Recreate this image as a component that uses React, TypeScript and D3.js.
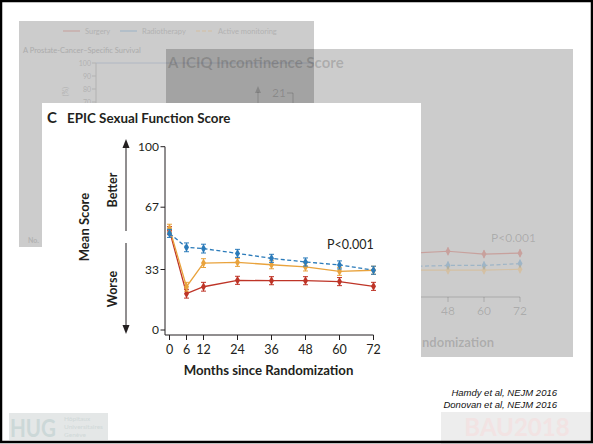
import React from 'react';
import * as d3 from 'd3';

// main chart data (EPIC sexual function score)
const months = [0, 6, 12, 24, 36, 48, 60, 72];
const radiotherapy = [52.7, 45.1, 44.4, 41.8, 39.1, 37.1, 35.5, 32.6];
const activeMonitoring = [55.5, 23.6, 36.5, 36.9, 35.6, 34.4, 32.0, 32.6];
const surgery = [54.2, 19.8, 23.6, 27.1, 26.9, 26.9, 26.4, 23.8];
const errHalf = [2.2, 2.4, 2.4, 2.2, 2.2, 2.2, 2.2, 2.2];
const yTicks = [0, 33, 67, 100];

// faded background panel (ICIQ incontinence), only right end visible
const bgMonths = [36, 48, 60, 72];
const bgSurgery = [4.1, 4.3, 4.0, 4.1];
const bgRadio = [2.7, 2.8, 2.8, 3.0];
const bgActive = [2.3, 2.3, 2.3, 2.4];
const bgXTicks = [48, 60, 72];

// faded back panel (survival)
const survTicks = [100, 90, 80, 70];
const legendItems = ['Surgery', 'Radiotherapy', 'Active monitoring'];

const RED = '#be3427';
const BLUE = '#2b7bba';
const ORANGE = '#e9a33d';
const FONT = 'Lato, "Open Sans", sans-serif';

const x = d3.scaleLinear().domain([0, 72]).range([169.5, 373.5]);
const y = d3.scaleLinear().domain([0, 100]).range([330, 146.7]);

const bx = d3.scaleLinear().domain([48, 72]).range([448, 520]);
const by = d3.scaleLinear().domain([0, 21]).range([292, 93]);

const sy = d3.scaleLinear().domain([70, 100]).range([102, 63]);

const diamond = d3.symbol(d3.symbolDiamond, 22)();

const Series = ({ vals, color, dashed }: { vals: number[]; color: string; dashed?: boolean }) => {
  const line = d3.line<number>()
    .x((d, i) => x(months[i]))
    .y(d => y(d));
  return <g>
    <path d={line(vals) || ''} fill='none' stroke={color} strokeWidth={1.3}
      strokeDasharray={dashed ? '4,2.5' : undefined} />
    {vals.map((v, i) => {
      const cx = x(months[i]);
      return <g key={i}>
        <line x1={cx} x2={cx} y1={y(v - errHalf[i])} y2={y(v + errHalf[i])} stroke={color} strokeWidth={1.2} />
        <line x1={cx - 2.5} x2={cx + 2.5} y1={y(v - errHalf[i])} y2={y(v - errHalf[i])} stroke={color} strokeWidth={1} />
        <line x1={cx - 2.5} x2={cx + 2.5} y1={y(v + errHalf[i])} y2={y(v + errHalf[i])} stroke={color} strokeWidth={1} />
        <path d={diamond} transform={`translate(${cx},${y(v)})`} fill={color} />
      </g>;
    })}
  </g>;
};

const BgSeries = ({ vals, color, dashed }: { vals: number[]; color: string; dashed?: boolean }) => {
  const line = d3.line<number>()
    .x((d, i) => bx(bgMonths[i]))
    .y(d => by(d));
  return <g opacity={0.28}>
    <path d={line(vals) || ''} fill='none' stroke={color} strokeWidth={1.2}
      strokeDasharray={dashed ? '4,2.5' : undefined} />
    {vals.map((v, i) => (
      <g key={i}>
        <line x1={bx(bgMonths[i])} x2={bx(bgMonths[i])} y1={by(v) - 4} y2={by(v) + 4} stroke={color} />
        <path d={diamond} transform={`translate(${bx(bgMonths[i])},${by(v)})`} fill={color} />
      </g>
    ))}
  </g>;
};

const App = () => {
  const legendX = [63, 120, 196];
  return <div style={{ position: 'fixed', left: 0, top: 0 }}>
    <svg width={593} height={444} style={{ display: 'block' }}>
      <rect x={0} y={0} width={593} height={444} fill='#fff' />

      {/* back panel: survival */}
      <g>
        <rect x={19} y={21} width={295} height={226} fill='#000' fillOpacity={0.2} />
        <g fontFamily={FONT}>
          {legendItems.map((t, i) => (
            <g key={t}>
              <line x1={legendX[i]} x2={legendX[i] + 17} y1={31} y2={31}
                stroke={[RED, BLUE, ORANGE][i]} strokeOpacity={0.3} strokeWidth={1}
                strokeDasharray={i === 2 ? '4,2' : undefined} />
              <text x={legendX[i] + 22} y={34} fontSize={7.5} fill='#b2b2b2'>{t}</text>
            </g>
          ))}
          <text x={23} y={53} fontSize={7.5} fill='#ababab'>A  Prostate-Cancer–Specific Survival</text>
          {survTicks.map(t => (
            <g key={t}>
              <text x={91} y={sy(t) + 2.5} fontSize={7} fill='#b2b2b2' textAnchor='end'>{t}</text>
              <line x1={92} x2={96} y1={sy(t)} y2={sy(t)} stroke='#b2b2b2' />
            </g>
          ))}
          <line x1={96} x2={96} y1={sy(100)} y2={247} stroke='#b2b2b2' />
          <line x1={96} x2={314} y1={sy(100)} y2={sy(100)} stroke='#a9b3c2' strokeWidth={0.8} />
          <text transform={`translate(68,${sy(78)}) rotate(-90)`} fontSize={7} fill='#b2b2b2' textAnchor='middle'>(%)</text>
          <text x={28} y={243} fontSize={7} fill='#b2b2b2' fontWeight='bold'>No.</text>
        </g>
      </g>

      {/* middle panel: incontinence */}
      <g>
        <rect x={166} y={49} width={407} height={308} fill='#000' fillOpacity={0.2} />
        <g fontFamily={FONT} fill='#000' fillOpacity={0.17}>
          <text x={168} y={68} fontSize={15} fontWeight='bold'>A  ICIQ Incontinence Score</text>
          <text x={286} y={97} fontSize={12} textAnchor='end'>21</text>
          <text x={491} y={242} fontSize={12}>P&lt;0.001</text>
          {bgXTicks.map(t => (
            <text key={t} x={bx(t)} y={315} fontSize={12} textAnchor='middle'>{t}</text>
          ))}
          {/* rest of the axis title sits under the front panel */}
          <text x={422} y={347} fontSize={13} fontWeight='bold'>ndomization</text>
        </g>
        <g stroke='#000' strokeOpacity={0.17}>
          <line x1={287} x2={293} y1={93} y2={93} />
          <line x1={293} x2={293} y1={93} y2={297} />
          <line x1={258} x2={258} y1={92} y2={110} />
          <line x1={293} x2={bx(72)} y1={297} y2={297} />
          {bgXTicks.map(t => <line key={t} x1={bx(t)} x2={bx(t)} y1={297} y2={302} />)}
        </g>
        <path d='M255,93 L258,86 L261,93 Z' fill='#000' fillOpacity={0.17} />
        <BgSeries vals={bgSurgery} color={RED} />
        <BgSeries vals={bgRadio} color={BLUE} dashed />
        <BgSeries vals={bgActive} color={ORANGE} />
      </g>

      {/* front panel: EPIC sexual function */}
      <rect x={42} y={103} width={379} height={285} fill='#fff' />
      <g fontFamily={FONT} fill='#231f20'>
        <text x={47} y={123} fontSize={15} fontWeight='bold'>C</text>
        <text x={67} y={123} fontSize={13.4} fontWeight='bold'>EPIC Sexual Function Score</text>

        <text transform='translate(89,227) rotate(-90)' fontSize={13} fontWeight='bold' textAnchor='middle'>Mean Score</text>
        <text transform='translate(117,190) rotate(-90)' fontSize={12.5} fontWeight='bold' textAnchor='middle'>Better</text>
        <text transform='translate(117,289) rotate(-90)' fontSize={12.5} fontWeight='bold' textAnchor='middle'>Worse</text>

        {yTicks.map(t => (
          <text key={t} x={159} y={y(t) + 4} fontSize={12} textAnchor='end'>{t}</text>
        ))}
        {months.map(m => (
          <text key={m} x={x(m)} y={354} fontSize={12.5} textAnchor='middle'>{m}</text>
        ))}
        <text x={268.5} y={375} fontSize={13.2} fontWeight='bold' textAnchor='middle'>Months since Randomization</text>
        <text x={327} y={249} fontSize={12.5}>P&lt;0.001</text>
      </g>
      <g stroke='#231f20' strokeWidth={1}>
        <line x1={126} x2={126} y1={146} y2={231} />
        <line x1={126} x2={126} y1={243} y2={327} />
        <line x1={165} x2={165} y1={y(100)} y2={335} />
        {yTicks.map(t => <line key={t} x1={160.5} x2={165} y1={y(t)} y2={y(t)} />)}
        <line x1={165} x2={x(72)} y1={335} y2={335} />
        {months.map(m => <line key={m} x1={x(m)} x2={x(m)} y1={335} y2={340} />)}
      </g>
      <path d='M122.5,148 L126,139 L129.5,148 Z' fill='#231f20' />
      <path d='M122.5,325 L126,334 L129.5,325 Z' fill='#231f20' />

      <Series vals={surgery} color={RED} />
      <Series vals={activeMonitoring} color={ORANGE} />
      <Series vals={radiotherapy} color={BLUE} dashed />

      {/* citations */}
      <g fontFamily='"Liberation Sans", Arial, sans-serif' fontStyle='italic' fontSize={9.5} fill='#111' textAnchor='end'>
        <text x={557} y={396}>Hamdy et al, NEJM 2016</text>
        <text x={557} y={408}>Donovan et al, NEJM 2016</text>
      </g>

      {/* logos */}
      <rect x={441} y={412} width={152} height={32} fill='#ededed' />
      <text x={517} y={436} fontFamily={FONT} fontSize={24} fontWeight='bold' fill='#f2e3e3' textAnchor='middle'>BAU2018</text>
      <rect x={9} y={413} width={99} height={27} fill='#e4e7e7' />
      <text x={10} y={437} fontFamily={FONT} fontSize={24} fontWeight='bold' fill='#ccd8d8'
        textLength={46} lengthAdjust='spacingAndGlyphs'>HUG</text>
      <g fontFamily={FONT} fontSize={6.5} fill='#d0d8d8'>
        <text x={64} y={421}>Hôpitaux</text>
        <text x={64} y={429}>Universitaires</text>
        <text x={64} y={437}>Genève</text>
      </g>

      {/* slide border */}
      <rect x={1} y={1} width={591} height={441} fill='none' stroke='#000' strokeWidth={2.5} />
    </svg>
  </div>;
};

export default App;
